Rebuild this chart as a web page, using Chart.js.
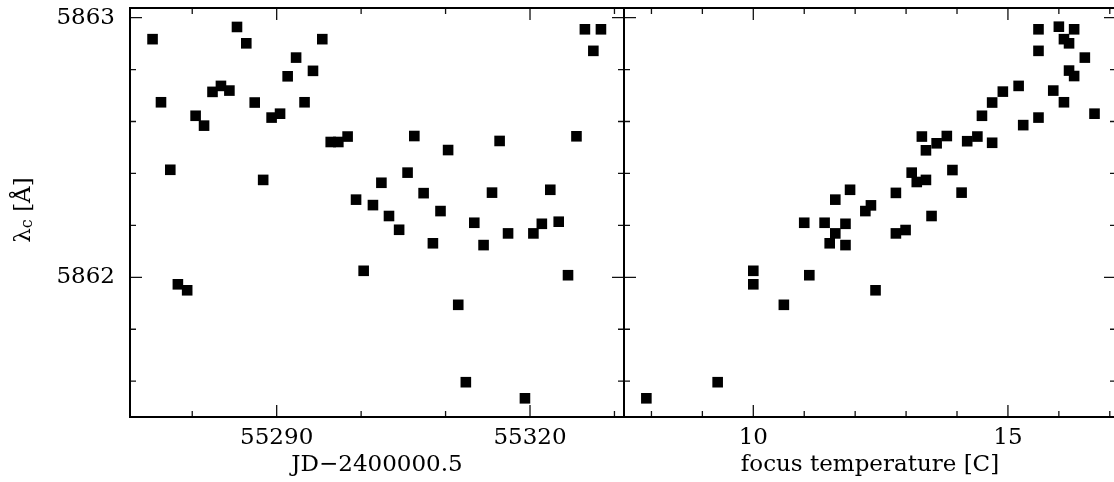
<!DOCTYPE html>
<html>
<head>
<meta charset="utf-8">
<script src="https://cdn.jsdelivr.net/npm/chart.js@4/dist/chart.umd.min.js"></script>
<style>
  html, body { margin: 0; padding: 0; background: #fff; overflow: hidden; width: 1114px; height: 482px; }
  #left { position: absolute; left: 0; top: 0; }
  #right { position: absolute; left: 622px; top: 0; }
</style>
</head>
<body>
<canvas id="left" width="626" height="482"></canvas>
<canvas id="right" width="500" height="482"></canvas>
<script>
// left panel: date vs central wavelength
const jd = [55275.3, 55276.3, 55277.4, 55278.3, 55279.4, 55280.4, 55281.4, 55282.4, 55283.4, 55284.4,
  55285.3, 55286.4, 55287.4, 55288.4, 55289.4, 55290.4, 55291.3, 55292.3, 55293.3, 55294.3,
  55295.4, 55296.4, 55297.3, 55298.4, 55299.4, 55300.3, 55301.4, 55302.4, 55303.3, 55304.5,
  55305.5, 55306.3, 55307.4, 55308.5, 55309.4, 55310.3, 55311.5, 55312.4, 55313.4, 55314.5,
  55315.5, 55316.4, 55317.4, 55319.4, 55320.4, 55321.4, 55322.4, 55323.4, 55324.5, 55325.5,
  55326.5, 55327.5, 55328.4];
const lambdaJd = [5862.917, 5862.674, 5862.414, 5861.973, 5861.950, 5862.622, 5862.584, 5862.714, 5862.737, 5862.719,
  5862.964, 5862.901, 5862.673, 5862.375, 5862.615, 5862.630, 5862.774, 5862.846, 5862.674, 5862.795,
  5862.917, 5862.521, 5862.521, 5862.542, 5862.299, 5862.025, 5862.278, 5862.364, 5862.236, 5862.183,
  5862.403, 5862.544, 5862.324, 5862.131, 5862.255, 5862.490, 5861.894, 5861.596, 5862.210, 5862.124,
  5862.326, 5862.525, 5862.169, 5861.534, 5862.169, 5862.206, 5862.337, 5862.214, 5862.008, 5862.543,
  5862.955, 5862.872, 5862.955];

// right panel: focus temperature vs central wavelength
const temp = [15.60, 16.00, 16.30, 16.10, 16.20, 15.60, 16.51, 16.20, 16.30, 15.21,
  14.90, 15.89, 14.69, 16.10, 14.49, 16.70, 15.60, 15.30, 13.31, 13.80,
  13.60, 13.39, 14.20, 14.40, 14.69, 13.91, 13.11, 13.21, 13.39, 12.80,
  14.09, 11.90, 11.61, 12.31, 12.20, 13.50, 11.00, 11.40, 11.81, 11.61,
  12.80, 12.99, 11.50, 11.81, 10.00, 10.00, 11.10, 12.40, 10.60, 9.30, 7.90];
const lambdaTemp = [5862.955, 5862.965, 5862.955, 5862.917, 5862.901, 5862.872, 5862.846, 5862.796, 5862.775, 5862.737,
  5862.715, 5862.719, 5862.673, 5862.674, 5862.622, 5862.630, 5862.615, 5862.586, 5862.542, 5862.544,
  5862.516, 5862.489, 5862.524, 5862.542, 5862.518, 5862.413, 5862.403, 5862.367, 5862.375, 5862.325,
  5862.326, 5862.337, 5862.299, 5862.277, 5862.255, 5862.236, 5862.210, 5862.210, 5862.206, 5862.169,
  5862.169, 5862.182, 5862.131, 5862.124, 5862.025, 5861.973, 5862.008, 5861.950, 5861.894, 5861.596, 5861.534];

// tick labels
const jdTicks = [55290, 55320];
const tempTicks = [10, 15];
const lambdaTicks = [5862, 5863];

const FONT = '"DejaVu Serif", serif';
const fontSize = 23;

// inward ticks on all four sides + the box
function framePlugin(xMajor, xStep, yMajor, yStep) {
  function values(scale, step, major) {
    const out = [];
    for (let k = Math.ceil(scale.min / step); k <= Math.floor(scale.max / step); k++) {
      const v = k * step;
      out.push([v, major.some(m => Math.abs(m - v) < step / 100)]);
    }
    return out;
  }
  return {
    id: 'frame',
    afterDraw(chart) {
      const { ctx, chartArea: a } = chart;
      const x = chart.scales.x, y = chart.scales.y;
      ctx.save();
      ctx.strokeStyle = '#111';
      ctx.lineWidth = 1.3;
      ctx.beginPath();
      values(x, xStep, xMajor).forEach(([v, isMajor]) => {
        const px = x.getPixelForValue(v), len = isMajor ? 12 : 6;
        ctx.moveTo(px, a.top); ctx.lineTo(px, a.top + len);
        ctx.moveTo(px, a.bottom); ctx.lineTo(px, a.bottom - len);
      });
      values(y, yStep, yMajor).forEach(([v, isMajor]) => {
        const py = y.getPixelForValue(v), len = isMajor ? 12 : 6;
        ctx.moveTo(a.left, py); ctx.lineTo(a.left + len, py);
        ctx.moveTo(a.right, py); ctx.lineTo(a.right - len, py);
      });
      ctx.stroke();
      ctx.strokeStyle = '#000';
      ctx.lineWidth = 2;
      ctx.strokeRect(a.left, a.top, a.right - a.left, a.bottom - a.top);
      ctx.restore();
    }
  };
}

// y title with a subscript c
const yTitle = {
  id: 'ytitle',
  afterDraw(chart) {
    const ctx = chart.ctx;
    ctx.save();
    ctx.fillStyle = '#000';
    ctx.textBaseline = 'alphabetic';
    const big = fontSize + 'px ' + FONT, small = '16px ' + FONT;
    ctx.font = big; const w1 = ctx.measureText('λ').width; const w3 = ctx.measureText(' [Å]').width;
    ctx.font = small; const w2 = ctx.measureText('c').width;
    const total = w1 + w2 + w3;
    ctx.translate(30, 210);
    ctx.rotate(-Math.PI / 2);
    let pos = -total / 2;
    ctx.font = big; ctx.fillText('λ', pos, 0); pos += w1;
    ctx.font = small; ctx.fillText('c', pos, 2); pos += w2;
    ctx.font = big; ctx.fillText(' [Å]', pos, 0);
    ctx.restore();
  }
};

function noPad(s) {
  s.paddingLeft = 0; s.paddingRight = 0; s.paddingTop = 0; s.paddingBottom = 0;
}

function yScale(show) {
  return {
    type: 'linear',
    min: 5861.462,
    max: 5863.037,
    display: show,
    grid: { display: false, drawTicks: false },
    border: { display: false },
    afterBuildTicks: s => { s.ticks = lambdaTicks.map(v => ({ value: v })); },
    afterFit: s => { if (show) s.width = 130; noPad(s); },
    ticks: { color: '#000', padding: 15, font: { family: FONT, size: fontSize }, callback: v => String(v) }
  };
}

function xScale(min, max, ticks, title) {
  return {
    type: 'linear',
    min: min,
    max: max,
    grid: { display: false, drawTicks: false },
    border: { display: false },
    afterBuildTicks: s => { s.ticks = ticks.map(v => ({ value: v })); },
    afterFit: s => { s.height = 65; noPad(s); },
    ticks: { color: '#000', padding: 7, maxRotation: 0, font: { family: FONT, size: fontSize }, callback: v => String(v) },
    title: { display: true, text: title, color: '#000', padding: { top: 0, bottom: 3 }, font: { family: FONT, size: fontSize } }
  };
}

function dataset(xs, ys) {
  return {
    data: xs.map((v, i) => ({ x: v, y: ys[i] })),
    pointStyle: 'rect',
    pointRadius: 7.5,
    pointHoverRadius: 7.5,
    pointBackgroundColor: '#000',
    pointBorderWidth: 0,
    showLine: false
  };
}

const common = {
  responsive: false,
  animation: false,
  devicePixelRatio: 1,
  plugins: { legend: { display: false }, tooltip: { enabled: false } }
};

new Chart(document.getElementById('left'), {
  type: 'scatter',
  data: { datasets: [dataset(jd, lambdaJd)] },
  options: Object.assign({}, common, {
    layout: { autoPadding: false, padding: { top: 8, right: 2, left: 0, bottom: 0 } },
    scales: { x: xScale(55272.63, 55331.13, jdTicks, 'JD\u22122400000.5'), y: yScale(true) }
  }),
  plugins: [framePlugin(jdTicks, 10, lambdaTicks, 0.2), yTitle]
});

new Chart(document.getElementById('right'), {
  type: 'scatter',
  data: { datasets: [dataset(temp, lambdaTemp)] },
  options: Object.assign({}, common, {
    layout: { autoPadding: false, padding: { top: 8, right: 6, left: 2, bottom: 0 } },
    scales: { x: xScale(7.461, 17.122, tempTicks, 'focus temperature [C]'), y: yScale(false) }
  }),
  plugins: [framePlugin(tempTicks, 1, lambdaTicks, 0.2)]
});
</script>
</body>
</html>
